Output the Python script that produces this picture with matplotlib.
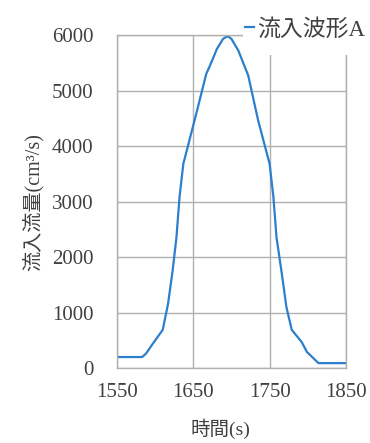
import matplotlib
matplotlib.use("Agg")
import matplotlib.pyplot as plt
from matplotlib.patches import Rectangle

# inflow hydrograph
time_s = [1550, 1583, 1588, 1597, 1610, 1617, 1623, 1628, 1632, 1637, 1646,
          1655, 1667, 1671, 1681, 1689, 1695, 1700, 1709, 1722, 1735, 1750,
          1755, 1759, 1766, 1772, 1779, 1792, 1799, 1814, 1850]
flow_cm3s = [200, 200, 260, 440, 690, 1160, 1760, 2360, 3080, 3680, 4160,
             4640, 5300, 5420, 5750, 5930, 5980, 5930, 5720, 5270, 4460, 3680,
             3080, 2360, 1700, 1100, 690, 470, 290, 90, 90]
x_ticks = [1550, 1650, 1750, 1850]
y_ticks = [0, 1000, 2000, 3000, 4000, 5000, 6000]
series_label = "流入波形A"

plt.rcParams["font.family"] = ["Liberation Serif", "Noto Sans CJK JP"]
text_color = "#404040"
grid_color = "#b0b0b0"

fig = plt.figure(figsize=(3.7, 4.43), dpi=100)
ax = fig.add_axes([0.316, 0.169, 0.619, 0.752])
ax.plot(time_s, flow_cm3s, color="#2b7fcc", lw=1.6, label=series_label)

ax.set_xlim(1550, 1850)
ax.set_ylim(0, 6000)
ax.set_xticks(x_ticks)
ax.set_yticks(y_ticks)
ax.grid(True, color=grid_color, lw=1.0)
ax.set_axisbelow(True)
for side in ax.spines.values():
    side.set_color(grid_color)
    side.set_linewidth(1.0)
ax.tick_params(length=0, labelsize=15, colors=text_color)
ax.tick_params(axis="y", pad=17)
ax.tick_params(axis="x", pad=11)

ax.set_xlabel("時間(s)", fontsize=14, color=text_color)
ax.xaxis.set_label_coords(0.45, -0.152)
ax.set_ylabel("流入流量(cm³/s)", fontsize=14.5, color=text_color)
ax.yaxis.set_label_coords(-0.315, 0.5)

# white box behind the legend hides the top-right part of the grid
fig.patches.append(Rectangle((0.657, 0.876), 0.4, 0.2, transform=fig.transFigure,
                             facecolor="white", edgecolor="none", zorder=5))
leg = fig.legend(loc="upper left", bbox_to_anchor=(0.662, 0.958), fontsize=16.5,
                 frameon=False, handlelength=0.4, handletextpad=0.15,
                 borderpad=0, borderaxespad=0, labelcolor=text_color)
leg.set_zorder(10)

fig.savefig("out.png", dpi=100)
